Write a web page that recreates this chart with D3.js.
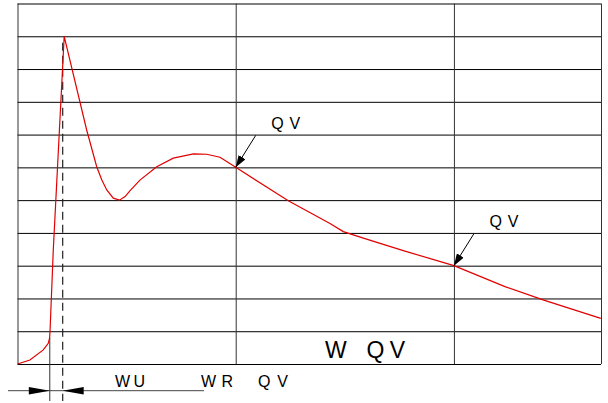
<!DOCTYPE html>
<html><head><meta charset="utf-8">
<script src="https://cdn.jsdelivr.net/npm/d3@7"></script>
<style>html,body{margin:0;padding:0;background:#fff;}svg{display:block;}</style>
</head><body>
<svg id="chart" width="608" height="403"></svg>
<script>
// ---- data ----
const timeMs = [0,5.7,11.8,14.1,14.7,14.9,16.4,21.4,31.7,36.3,38.6,40.9,43.9,46.7,49.3,51.6,56.1,63.8,71.4,80.6,86.7,92.8,100,124.1,143.2,149.3,158.5,176.8,200,223.4,241.2,267.3];
const values = [0,0.12,0.43,0.63,0.79,0.99,3.48,10,7.14,6.02,5.62,5.31,5.06,5.0,5.11,5.29,5.61,6.02,6.28,6.41,6.40,6.31,6,4.98,4.29,4.04,3.84,3.46,3,2.36,1.95,1.39];
const xGridTicks = [0,100,200,267.4];
const yGridTicks = [0,1,2,3,4,5,6,7,8,9,10,11];
const markedTimes = [100,200];
const markedValues = [6,3];
const markLabels = ["Q V","Q V"];
const riseStart = 14.8, peakTime = 21.4;
const bottomLabels = ["W U","W R","Q V"];
const bigLabelA = "W", bigLabelB = "Q V";

// ---- layout ----
const svg = d3.select("#chart");
const x = d3.scaleLinear().domain([0,267.4]).range([17.5,601]);
const y = d3.scaleLinear().domain([0,11]).range([364,3.5]);
const font = "'Liberation Sans', Arial, sans-serif";

// horizontal grid
svg.append("g").attr("transform",`translate(${x(0)},0)`)
  .call(d3.axisLeft(y).tickValues(yGridTicks).tickSize(-(x(267.4)-x(0))).tickFormat(""))
  .call(g=>g.select(".domain").remove())
  .call(g=>g.selectAll("line").attr("stroke","#000").attr("stroke-width",1));
// vertical grid
svg.append("g").attr("transform",`translate(0,${y(0)})`)
  .call(d3.axisBottom(x).tickValues(xGridTicks).tickSize(-(y(0)-y(11))).tickFormat(""))
  .call(g=>g.select(".domain").remove())
  .call(g=>g.selectAll("line").attr("stroke","#333").attr("stroke-width",1));

// defs arrow
svg.append("defs").append("marker").attr("id","ah").attr("viewBox","0 0 12 8")
  .attr("refX",12).attr("refY",4).attr("markerWidth",12).attr("markerHeight",8)
  .attr("markerUnits","userSpaceOnUse").attr("orient","auto")
  .append("path").attr("d","M0,0L12,4L0,8Z").attr("fill","#000");

// dimension lines
const yb = 390.7;
svg.append("line").attr("x1",x(riseStart)).attr("x2",x(riseStart)).attr("y1",y(0.8)).attr("y2",401).attr("stroke","#333").attr("stroke-width",1);
svg.append("line").attr("x1",x(peakTime)-1.5).attr("x2",x(peakTime)-1.5).attr("y1",y(9.8)).attr("y2",401).attr("stroke","#222").attr("stroke-width",1.2).attr("stroke-dasharray","8,5");
svg.append("line").attr("x1",8).attr("x2",204).attr("y1",yb).attr("y2",yb).attr("stroke","#444").attr("stroke-width",1);
const xa = x(riseStart), xp = x(peakTime)-1.5;
svg.append("path").attr("d",`M${xa-21},${yb-3.7}L${xa},${yb}L${xa-21},${yb+3.7}Z`).attr("fill","#000");
svg.append("path").attr("d",`M${xp+21},${yb-3.7}L${xp},${yb}L${xp+21},${yb+3.7}Z`).attr("fill","#000");

// curve
const pts = timeMs.map((t,i)=>[t,values[i]]);
svg.append("path").datum(pts)
  .attr("d",d3.line().x(d=>x(d[0])).y(d=>y(d[1])).curve(d3.curveLinear))
  .attr("fill","none").attr("stroke","#e00000").attr("stroke-width",1.2);

// marker arrows & labels
markedTimes.forEach((t,i)=>{
  const tx = x(t), ty = y(markedValues[i]);
  svg.append("line").attr("x1",tx+20).attr("y1",ty-32).attr("x2",tx).attr("y2",ty)
    .attr("stroke","#000").attr("stroke-width",1).attr("marker-end","url(#ah)");
  svg.append("text").attr("x",tx+35.5).attr("y",ty-38.5).attr("font-family",font).attr("font-size",16)
    .attr("textLength",29).attr("lengthAdjust","spacing").text(markLabels[i]);
});

// bottom labels
const blX = [115,201,258], blW = [30,32,30];
bottomLabels.forEach((s,i)=>{
  svg.append("text").attr("x",blX[i]).attr("y",386.5).attr("font-family",font).attr("font-size",16)
    .attr("textLength",blW[i]).attr("lengthAdjust","spacing").text(s);
});
svg.append("text").attr("x",325).attr("y",358.3).attr("font-family",font).attr("font-size",23).text(bigLabelA);
svg.append("text").attr("x",366.5).attr("y",358.3).attr("font-family",font).attr("font-size",23)
  .attr("textLength",38.5).attr("lengthAdjust","spacing").text(bigLabelB);
</script>
</body></html>
